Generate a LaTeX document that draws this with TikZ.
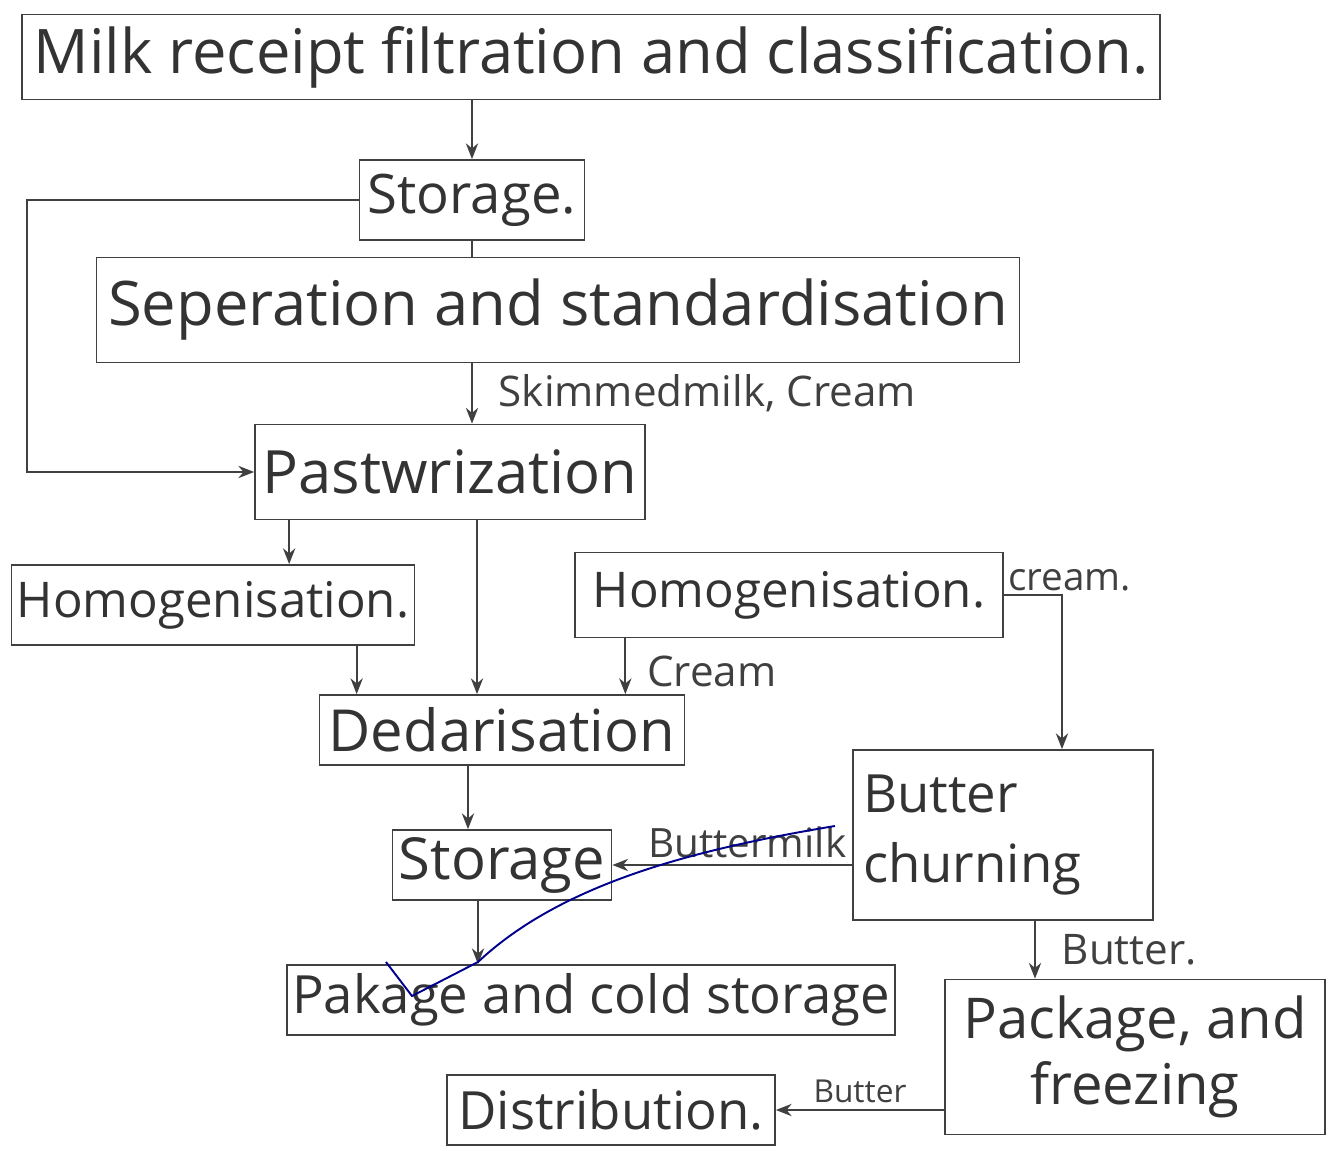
\documentclass[tikz,border=0pt]{standalone}
\usepackage{fontspec}
\setmainfont{Open Sans}
\usetikzlibrary{arrows.meta}

\tikzset{
  stagebox/.style={draw=black!75, line width=1pt, rectangle, inner sep=0pt, text=black!80, font=\fontsize{32}{38}\selectfont},
  flow/.style={draw=black!75, line width=1pt, -{Stealth[length=9pt,width=7pt]}},
  link/.style={draw=black!75, line width=1pt},
  tag/.style={text=black!75, font=\fontsize{24}{28}\selectfont},
}

\begin{document}
\begin{tikzpicture}[x=0.02cm, y=-0.02cm]
			%%%%% START %%%%%
			\useasboundingbox (0, 0) rectangle (1335, 1151);
			
			\node[stagebox, minimum width=22.76cm, minimum height=1.7cm, font=\fontsize{35}{40}\selectfont] (milk) at (591, 57) {Milk receipt filtration and classification.};
			\node[stagebox, minimum width=4.5cm, minimum height=1.6cm, font=\fontsize{31}{36}\selectfont] (store1) at (472, 200) {Storage.};
			\node[stagebox, minimum width=18.46cm, minimum height=2.1cm, font=\fontsize{35}{40}\selectfont] (sep) at (558, 310) {Seperation and standardisation};
			\node[stagebox, minimum width=7.8cm, minimum height=1.9cm, font=\fontsize{34}{40}\selectfont] (past) at (450, 472) {Pastwrization};
			\node[stagebox, minimum width=8.06cm, minimum height=1.6cm, font=\fontsize{28}{34}\selectfont] (homL) at (213, 605) {Homogenisation.};
			\node[stagebox, minimum width=8.56cm, minimum height=1.7cm, font=\fontsize{28}{34}\selectfont] (homR) at (789, 595) {Homogenisation.};
			\node[stagebox, minimum width=7.3cm, minimum height=1.4cm, font=\fontsize{33}{38}\selectfont] (ded) at (502, 730) {Dedarisation};
			\node[stagebox, minimum width=6cm, minimum height=3.4cm, text width=5.6cm, align=left, font=\fontsize{30}{40}\selectfont] (churn) at (1003, 835) {Butter\\churning};
			\node[stagebox, minimum width=4.38cm, minimum height=1.4cm, font=\fontsize{33}{38}\selectfont] (store2) at (502, 865) {Storage};
			\node[stagebox, minimum width=12.16cm, minimum height=1.4cm, font=\fontsize{30}{36}\selectfont] (pak) at (591, 1000) {Pakage and cold storage};
			\node[stagebox, minimum width=7.6cm, minimum height=3.1cm, align=center] (frz) at (1135, 1057) {Package, and\\freezing};
			\node[stagebox, minimum width=6.56cm, minimum height=1.4cm, font=\fontsize{30}{36}\selectfont] (dist) at (611, 1110) {Distribution.};
			
			\draw[flow] (milk.south -| store1.north) -- (store1.north);
			\draw[link] (store1.south) -- (store1.south |- sep.north);
			\draw[flow] (store1.west) -- ++(-332, 0) |- (past.west);
			\draw[flow] (sep.south -| store1.south) -- (past.north -| store1.south)
				node[tag, midway, anchor=west, xshift=0.4cm] {Skimmedmilk, Cream};
			
			\draw[flow] ([xshift=0.7cm]past.south west) -- ([xshift=0.7cm]past.south west |- homL.north);
			\draw[flow] ([xshift=-0.5cm]ded.north |- past.south) -- ([xshift=-0.5cm]ded.north);
			\draw[flow] ([xshift=0.76cm]ded.north west |- homL.south) -- ([xshift=0.76cm]ded.north west);
			\draw[flow] ([xshift=-1.2cm]ded.north east |- homR.south) -- ([xshift=-1.2cm]ded.north east)
				node[tag, pos=0.6, anchor=west, xshift=0.3cm] {Cream};
			\draw[flow] (homR.east) node[tag, anchor=south west, inner sep=2pt, font=\fontsize{22}{26}\selectfont] {cream.} -| ([xshift=1.18cm]churn.north);
			
			\draw[flow] ([xshift=-0.68cm]ded.south) -- ([xshift=-0.68cm]store2.north);
			\draw[flow] (churn.west |- store2.east) -- (store2.east)
				node[tag, midway, above, xshift=0.3cm, font=\fontsize{23}{27}\selectfont] {Buttermilk};
			\draw[flow] ([xshift=-0.48cm]store2.south) -- ([xshift=-0.48cm]store2.south |- pak.north);
			\draw[flow] ([xshift=0.64cm]churn.south) -- ([xshift=0.64cm]churn.south |- frz.north)
				node[tag, midway, anchor=west, xshift=0.4cm] {Butter.};
			\draw[flow] (frz.west |- dist.east) -- (dist.east)
				node[tag, midway, above, font=\fontsize{18}{22}\selectfont] {Butter};
			
			\draw[line width=1.1pt, color=blue!55!black] (835, 826) .. controls (690, 850) and (560, 885) .. (478, 962) -- (412, 996) -- (386, 962);
			%%%%% END %%%%%
\end{tikzpicture}
\end{document}
